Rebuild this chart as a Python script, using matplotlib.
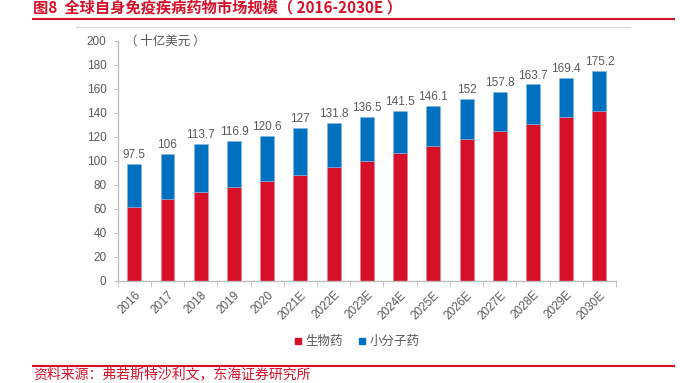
import numpy as np
import matplotlib
matplotlib.use('Agg')
import matplotlib.pyplot as plt
from matplotlib.lines import Line2D

plt.rcParams['font.family'] = ['Noto Sans CJK SC', 'DejaVu Sans']
num_font = ['Liberation Sans', 'Noto Sans CJK SC']

# DATA
years = ['2016', '2017', '2018', '2019', '2020', '2021E', '2022E', '2023E',
         '2024E', '2025E', '2026E', '2027E', '2028E', '2029E', '2030E']
totals = [97.5, 106, 113.7, 116.9, 120.6, 127, 131.8, 136.5, 141.5, 146.1,
          152, 157.8, 163.7, 169.4, 175.2]
total_labels = ['97.5', '106', '113.7', '116.9', '120.6', '127', '131.8', '136.5',
                '141.5', '146.1', '152', '157.8', '163.7', '169.4', '175.2']
bio = [61.5, 68, 74.3, 77.9, 82.9, 88.3, 94.6, 100.3, 106.7, 112, 118.4,
       124.5, 130.4, 136.3, 141.6]
small = [t - b for t, b in zip(totals, bio)]
y_ticks = [0, 20, 40, 60, 80, 100, 120, 140, 160, 180, 200]

red = '#D7102A'
blue = '#0070C0'
grey = '#595959'
axis_grey = '#BFBFBF'

# FIGURE
fig = plt.figure(figsize=(6.8, 3.83), dpi=100)
ax = fig.add_axes([0.173, 0.267, 0.733, 0.626])

x = np.arange(len(years))
ax.bar(x, bio, width=0.42, color=red, edgecolor='#F08090', linewidth=0.4, zorder=2)
ax.bar(x, small, width=0.42, bottom=bio, color=blue, edgecolor='#80B8E0',
       linewidth=0.4, zorder=2)
for xi, t, lab in zip(x, totals, total_labels):
    ax.text(xi, t + 2.5, lab, ha='center', va='bottom', fontsize=8.5, color=grey,
            family=num_font)

ax.set_xlim(-0.5, len(years) - 0.5)
ax.set_ylim(0, 200)
ax.set_yticks(y_ticks)
ax.set_yticklabels([str(v) for v in y_ticks], fontsize=8.5, color=grey, family=num_font)
ax.set_xticks(x)
ax.set_xticklabels(years, rotation=45, ha='right', rotation_mode='anchor',
                   fontsize=8.5, color=grey, family=num_font)
ax.set_xticks(np.arange(-0.5, len(years), 1.0), minor=True)
ax.tick_params(axis='x', which='major', length=0, pad=6)
ax.tick_params(axis='x', which='minor', length=4, color=axis_grey, direction='out')
ax.tick_params(axis='y', length=3, color=axis_grey, direction='out', pad=5)
for s in ['top', 'right']:
    ax.spines[s].set_visible(False)
for s in ['left', 'bottom']:
    ax.spines[s].set_color(axis_grey)
    ax.spines[s].set_linewidth(1.0)

ax.text(0.015, 1.0, '（ 十亿美元 ）', transform=ax.transAxes, fontsize=9, color=grey,
        ha='left', va='center')

handles = [Line2D([0], [0], marker='s', color='none', markerfacecolor=red,
                  markeredgecolor=red, markersize=5),
           Line2D([0], [0], marker='s', color='none', markerfacecolor=blue,
                  markeredgecolor=blue, markersize=5)]
fig.legend(handles, ['生物药', '小分子药'], loc='center', bbox_to_anchor=(0.525, 0.108),
           ncol=2, frameon=False, fontsize=9, handlelength=0.6, handletextpad=0.3,
           columnspacing=1.2, labelcolor=grey)

# title, source and rules
fig.text(0.049, 0.978, '图8  全球自身免疫疾病药物市场规模（ 2016-2030E ）', fontsize=11,
         color=red, fontweight='bold', ha='left', va='center')
fig.add_artist(Line2D([0.049, 0.991], [0.951, 0.951], color=red, linewidth=1.5))
fig.add_artist(Line2D([0.112, 0.926], [0.929, 0.929], color='#D9D9D9', linewidth=1.0))
fig.add_artist(Line2D([0.049, 0.991], [0.045, 0.045], color=red, linewidth=1.5))
fig.text(0.049, 0.004, '资料来源：弗若斯特沙利文，东海证券研究所', fontsize=10,
         color=red, ha='left', va='bottom')

plt.savefig('out.png', dpi=100)
